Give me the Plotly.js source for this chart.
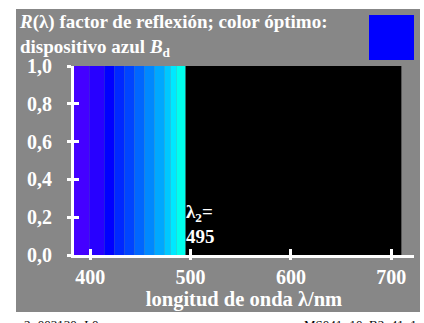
<!DOCTYPE html>
<html><head><meta charset="utf-8">
<script src="https://cdn.plot.ly/plotly-3.0.1.min.js"></script>
<style>html,body{margin:0;padding:0;background:#fff}</style>
</head><body><div id="chart" style="width:424px;height:323px"></div>
<script>
// ---- data ----
const bandEdges = [383, 399, 414, 424, 434, 444, 454, 464, 474, 480, 486, 495];
const bandReflectance = [1, 1, 1, 1, 1, 1, 1, 1, 1, 1, 1];
const darkEdges = [495, 710];
const darkHeight = [1];
const xTickVals = [400, 500, 600, 700];
const yTickVals = [0, 0.2, 0.4, 0.6, 0.8, 1.0];
const lambda2 = 495;
const titleText = '<i>R</i>(λ) factor de reflexión; color óptimo:<br>dispositivo azul <i>B</i><sub>d</sub>';
const xTitle = 'longitud de onda λ/nm';
const leftNote = '2\u2212003130\u2212L0';
const rightNote = 'MS041\u221210_B2_41_1';

// ---- styles ----
const bandColors = ['#4400ff','#2800ff','#0000ff','#0028ff','#0044ff','#0066ff','#0088ff','#00a8ff','#00c8ff','#00e8ff','#00ffee'];
const W = 424, H = 323, mL = 74, mR = 10, mT = 66, mB = 68;
const pw = W - mL - mR, ph = H - mT - mB;
const px2x = p => (p - mL) / pw;
const px2y = p => (H - mB - p) / ph;
const FAM = 'Liberation Serif';
const font = {family: FAM, color: '#ffffff', weight: 'bold'};

function mids(e){const m=[];for(let i=0;i<e.length-1;i++)m.push((e[i]+e[i+1])/2);return m;}
function widths(e){const w=[];for(let i=0;i<e.length-1;i++)w.push(e[i+1]-e[i]);return w;}

const traces = [
  {type:'bar', x: mids(bandEdges), y: bandReflectance, width: widths(bandEdges),
   marker:{color: bandColors, line:{width:0}}, hoverinfo:'skip', showlegend:false},
  {type:'bar', x: mids(darkEdges), y: darkHeight, width: widths(darkEdges),
   marker:{color:'#000000', line:{width:0}}, hoverinfo:'skip', showlegend:false},
  {type:'scatter', x:[], y:[], xaxis:'x2', yaxis:'y2', hoverinfo:'skip', showlegend:false}
];

const xr = [383.8, 722.6];
const axBase = {showgrid:false, zeroline:false, showline:true, linecolor:'#ffffff', linewidth:3,
  tickcolor:'#ffffff', tickwidth:3};

const layout = {
  width: W, height: H,
  font: {family: FAM},
  margin:{l:mL, r:mR, t:mT, b:mB, pad:0},
  paper_bgcolor:'#ffffff', plot_bgcolor:'rgba(0,0,0,0)',
  separators: ', ',
  barmode:'overlay',
  title:{text:titleText, font:Object.assign({}, font, {size:19}), xref:'container', yref:'container',
    x: 20/W, xanchor:'left', y: 1 - 28/H, yanchor:'bottom'},
  xaxis: Object.assign({}, axBase, {range: xr, tickvals: xTickVals, ticks:'inside', ticklen:6,
    tickfont:Object.assign({}, font, {size:20}), ticklabelstandoff: 2,
    title:{text:xTitle, font:Object.assign({}, font, {size:20.5}), standoff: 2}}),
  yaxis: Object.assign({}, axBase, {range:[0,1], tickvals: yTickVals, tickformat:'.1f', ticks:'inside', ticklen:5,
    tickfont:Object.assign({}, font, {size:20}), ticklabelstandoff: 15}),
  xaxis2: Object.assign({}, axBase, {range: xr, tickvals: xTickVals, ticks:'outside', ticklen:2,
    showticklabels:false, overlaying:'x', anchor:'y2', side:'bottom'}),
  yaxis2: Object.assign({}, axBase, {range:[0,1], tickvals: yTickVals, ticks:'outside', ticklen:4,
    showticklabels:false, overlaying:'y', anchor:'x2', side:'left'}),
  shapes: [
    {type:'rect', xref:'paper', yref:'paper', x0:px2x(16), x1:px2x(420), y0:px2y(312), y1:px2y(9),
     fillcolor:'#878787', line:{width:0}, layer:'below'},
    {type:'rect', xref:'paper', yref:'paper', x0:px2x(369), x1:px2x(414), y0:px2y(60), y1:px2y(15),
     fillcolor:'#0000ff', line:{width:0}, layer:'above'}
  ],
  annotations: [
    {xref:'x', yref:'y', x: lambda2, y: 0.03, xanchor:'left', yanchor:'bottom', showarrow:false,
     text:'λ<sub>2</sub>=<br>' + lambda2, align:'left', font:Object.assign({}, font, {size:19}), xshift:-2},
    {xref:'paper', yref:'paper', x: px2x(22), y: px2y(315), xanchor:'left', yanchor:'top', showarrow:false,
     text: leftNote, font:{family:FAM, size:13, color:'#000000'}},
    {xref:'paper', yref:'paper', x: px2x(419), y: px2y(315), xanchor:'right', yanchor:'top', showarrow:false,
     text: rightNote, font:{family:FAM, size:13, color:'#000000'}}
  ]
};

Plotly.newPlot('chart', traces, layout, {displayModeBar:false, staticPlot:true});
</script></body></html>
